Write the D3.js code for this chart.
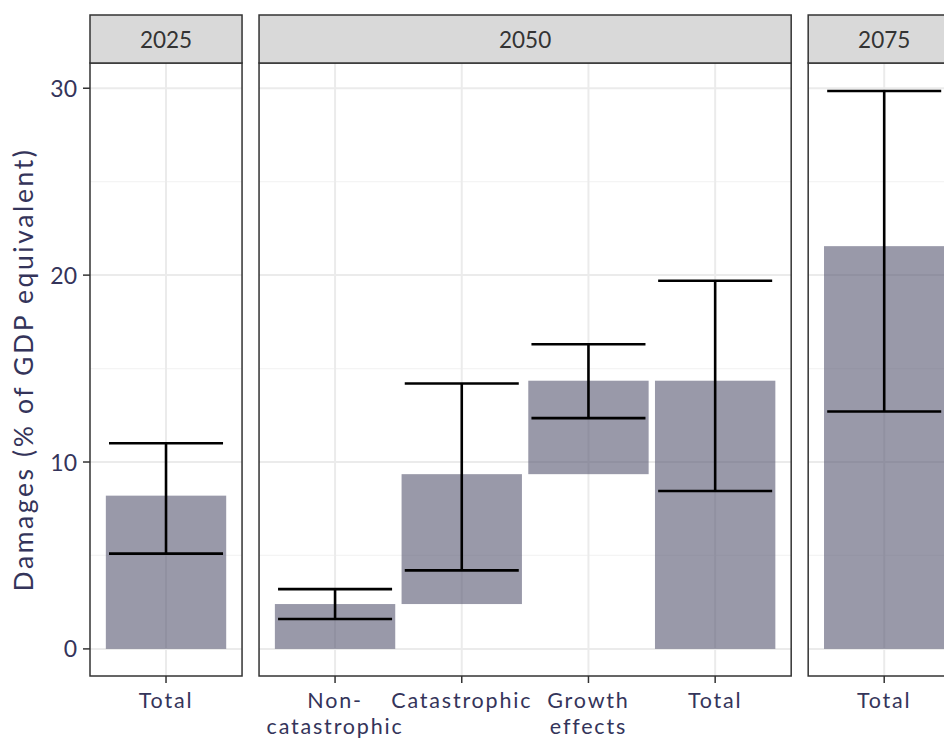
<!DOCTYPE html>
<html>
<head>
<meta charset="utf-8">
<script src="https://cdn.jsdelivr.net/npm/d3@7"></script>
<style>
  html, body { margin: 0; padding: 0; background: #fff; }
  svg text { font-family: Lato, "Open Sans", sans-serif; }
</style>
</head>
<body>
<svg id="chart" width="944" height="738"></svg>
<script>
// Facet panels (years) and the categories shown in each
const panels = ["2025", "2050", "2075"];
const panelCategories = [
  ["Total"],
  ["Non-\ncatastrophic", "Catastrophic", "Growth\neffects", "Total"],
  ["Total"]
];
// Bar extents (waterfall: each bar runs from base to top), % of GDP equivalent
const barBase = [
  [0],
  [0, 2.4, 9.35, 0],
  [0]
];
const barTop = [
  [8.2],
  [2.4, 9.35, 14.35, 14.35],
  [21.55]
];
// Uncertainty range for each bar
const errLow = [
  [5.1],
  [1.6, 4.2, 12.35, 8.45],
  [12.7]
];
const errHigh = [
  [11.0],
  [3.2, 14.2, 16.3, 19.7],
  [29.85]
];
const yTicks = [0, 10, 20, 30];
const yMinor = [5, 15, 25];
const yTitle = "Damages (% of GDP equivalent)";

const svg = d3.select("#chart");
const plotTop = 63, plotBottom = 676;
const stripTop = 15;
const step = 126.7;          // width of one category slot
const gap = 17;              // space between facet panels
const firstLeft = 90;

const y = d3.scaleLinear().domain([-1.45, 31.35]).range([plotBottom, plotTop]);

const axisColor = "#34345a";
const borderColor = "#333333";

// Panel x ranges derived from the category count of each facet
let nextLeft = firstLeft;
const panelX = panelCategories.map(cats => {
  const w = step * (cats.length - 1 + 1.2);
  const r = [nextLeft, nextLeft + w];
  nextLeft += w + gap;
  return r;
});

panels.forEach((p, i) => {
  const [x0, x1] = panelX[i];
  const cats = panelCategories[i];
  const x = d3.scalePoint().domain(cats).range([x0, x1]).padding(0.6);
  const g = svg.append("g");

  // grid
  g.selectAll("line.minor").data(yMinor).enter().append("line")
    .attr("x1", x0).attr("x2", x1)
    .attr("y1", d => y(d)).attr("y2", d => y(d))
    .attr("stroke", "#f4f4f4").attr("stroke-width", 1.2);
  g.selectAll("line.major").data(yTicks).enter().append("line")
    .attr("x1", x0).attr("x2", x1)
    .attr("y1", d => y(d)).attr("y2", d => y(d))
    .attr("stroke", "#ebebeb").attr("stroke-width", 2);
  g.selectAll("line.vgrid").data(cats).enter().append("line")
    .attr("x1", d => x(d)).attr("x2", d => x(d))
    .attr("y1", plotTop).attr("y2", plotBottom)
    .attr("stroke", "#ebebeb").attr("stroke-width", 2);

  // bars
  const bw = step * 0.95;
  g.selectAll("rect.bar").data(cats).enter().append("rect")
    .attr("x", d => x(d) - bw / 2)
    .attr("width", bw)
    .attr("y", (d, j) => y(barTop[i][j]))
    .attr("height", (d, j) => y(barBase[i][j]) - y(barTop[i][j]))
    .attr("fill", "#55556f").attr("fill-opacity", 0.6);

  // error bars
  const ew = step * 0.9;
  cats.forEach((c, j) => {
    const cx = x(c);
    const eg = g.append("g").attr("stroke", "#000").attr("stroke-width", 2.6);
    eg.append("line").attr("x1", cx).attr("x2", cx)
      .attr("y1", y(errLow[i][j])).attr("y2", y(errHigh[i][j]));
    eg.append("line").attr("x1", cx - ew / 2).attr("x2", cx + ew / 2)
      .attr("y1", y(errLow[i][j])).attr("y2", y(errLow[i][j]));
    eg.append("line").attr("x1", cx - ew / 2).attr("x2", cx + ew / 2)
      .attr("y1", y(errHigh[i][j])).attr("y2", y(errHigh[i][j]));
  });

  // panel border
  g.append("rect").attr("x", x0).attr("y", plotTop)
    .attr("width", x1 - x0).attr("height", plotBottom - plotTop)
    .attr("fill", "none").attr("stroke", borderColor).attr("stroke-width", 1.5);

  // strip
  g.append("rect").attr("x", x0).attr("y", stripTop)
    .attr("width", x1 - x0).attr("height", plotTop - stripTop)
    .attr("fill", "#d9d9d9").attr("stroke", borderColor).attr("stroke-width", 1.5);
  g.append("text").attr("x", (x0 + x1) / 2).attr("y", 48)
    .attr("text-anchor", "middle")
    .attr("font-size", 22.5).attr("fill", "#333")
    .text(p);

  // x axis ticks and labels (one text per line)
  const xa = g.append("g");
  cats.forEach(c => {
    xa.append("line").attr("x1", x(c)).attr("x2", x(c))
      .attr("y1", plotBottom).attr("y2", plotBottom + 7)
      .attr("stroke", borderColor).attr("stroke-width", 1.5);
    c.split("\n").forEach((line, k) => {
      xa.append("text").attr("x", x(c)).attr("y", 708 + k * 26)
        .attr("text-anchor", "middle").attr("font-size", 21.5)
        .attr("letter-spacing", 1.8).attr("fill", axisColor)
        .text(line);
    });
  });
});

// y axis
const ya = svg.append("g");
yTicks.forEach(v => {
  ya.append("line").attr("x1", firstLeft - 7).attr("x2", firstLeft)
    .attr("y1", y(v)).attr("y2", y(v))
    .attr("stroke", borderColor).attr("stroke-width", 1.5);
  ya.append("text").attr("x", firstLeft - 13).attr("y", y(v) + 8.5)
    .attr("text-anchor", "end")
    .attr("font-size", 23).attr("fill", axisColor).text(v);
});
svg.append("text")
  .attr("transform", `translate(33,${(plotTop + plotBottom) / 2}) rotate(-90)`)
  .attr("text-anchor", "middle")
  .attr("font-size", 26.5).attr("fill", axisColor)
  .attr("letter-spacing", 2.6)
  .text(yTitle);
</script>
</body>
</html>
